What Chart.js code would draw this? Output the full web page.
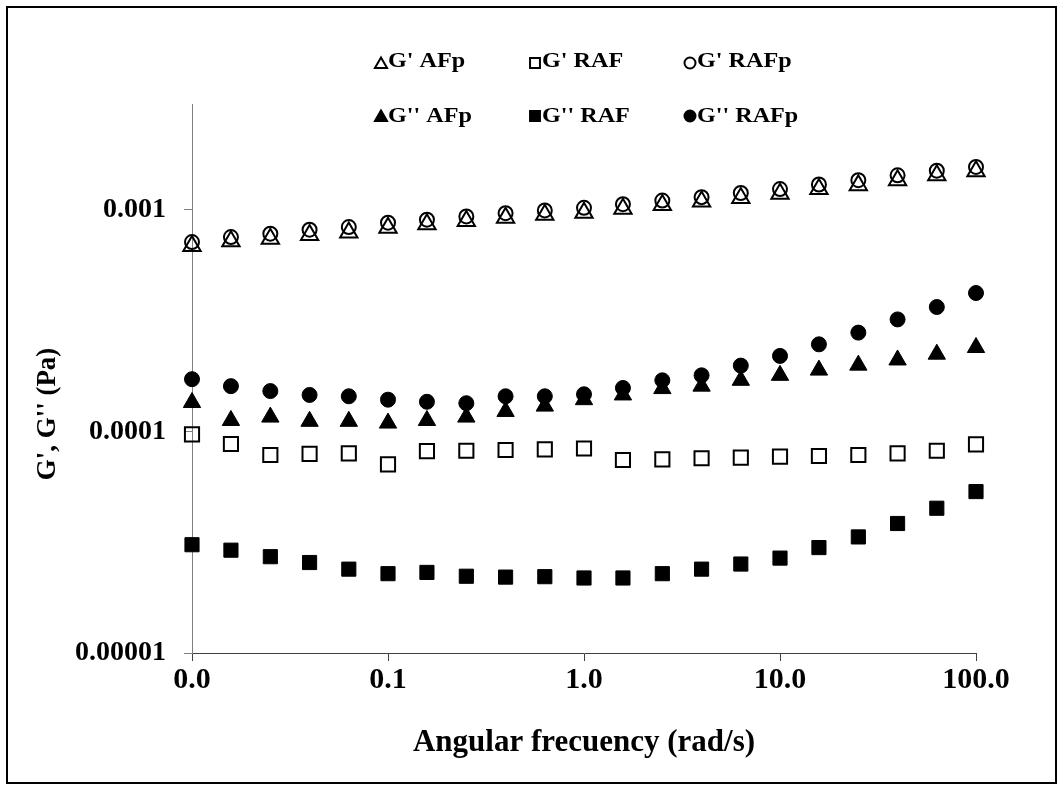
<!DOCTYPE html>
<html>
<head>
<meta charset="utf-8">
<script src="https://cdn.jsdelivr.net/npm/chart.js@4.4.1/dist/chart.umd.min.js"></script>
<style>
body{margin:0;background:#fff;}
canvas{display:block;}
</style>
</head>
<body>
<canvas id="chart" width="1063" height="790"></canvas>
<script>
// angular frequency (rad/s)
const freq=[0.01,0.0158,0.0251,0.0398,0.0631,0.1,0.158,0.251,0.398,0.631,1,1.58,2.51,3.98,6.31,10,15.8,25.1,39.8,63.1,100];
// moduli (Pa)
const gpAFp=[0.000686,0.00072,0.00074,0.00077,0.00079,0.00083,0.00086,0.00089,0.00092,0.00095,0.00097,0.00101,0.00105,0.00109,0.00113,0.00118,0.00124,0.00129,0.00136,0.00143,0.00149];
const gpRAF=[0.0000969,0.0000877,0.0000782,0.0000791,0.0000796,0.000071,0.0000815,0.0000818,0.0000824,0.000083,0.0000837,0.0000743,0.0000748,0.0000756,0.0000761,0.0000769,0.0000774,0.0000782,0.0000796,0.0000818,0.0000874];
const gpRAFp=[0.000715,0.000753,0.00078,0.000813,0.000835,0.000874,0.000902,0.000933,0.000965,0.000993,0.00102,0.00106,0.0011,0.00114,0.00119,0.00124,0.0013,0.00136,0.00143,0.0015,0.00156];
const gppAFp=[0.000135,0.000112,0.000116,0.000111,0.000111,0.000109,0.000112,0.000116,0.000123,0.00013,0.000139,0.000146,0.000156,0.00016,0.00017,0.000179,0.000189,0.000199,0.00021,0.000223,0.000239];
const gppRAF=[0.0000308,0.0000291,0.0000272,0.0000256,0.0000239,0.0000228,0.0000231,0.0000222,0.000022,0.0000221,0.0000218,0.0000218,0.0000228,0.0000239,0.0000252,0.0000268,0.0000299,0.0000334,0.0000384,0.000045,0.0000535];
const gppRAFp=[0.000172,0.00016,0.000152,0.000146,0.000144,0.000139,0.000136,0.000134,0.000144,0.000144,0.000147,0.000157,0.00017,0.000179,0.000198,0.000219,0.000247,0.000279,0.00032,0.000364,0.000421];

const labels=["G' AFp","G' RAF","G' RAFp","G'' AFp","G'' RAF","G'' RAFp"];
const xTicks=[0.01,0.1,1,10,100];
const xTickLabels=['0.0','0.1','1.0','10.0','100.0'];
const yTicks=[0.00001,0.0001,0.001];
const yTickLabels=['0.00001','0.0001','0.001'];
const xTitle='Angular frecuency (rad/s)';
const yTitle="G', G'' (Pa)";

const FONT='"Liberation Serif","Times New Roman",serif';
const pts=arr=>arr.map((v,i)=>({x:freq[i],y:v}));

function ds(label,data,style,filled,r){
  return {label,data:pts(data),pointStyle:style,pointRadius:r,pointHoverRadius:r,
    borderColor:'#000',backgroundColor:filled?'#000':'rgba(0,0,0,0)',
    pointBorderWidth:filled?1:2,showLine:false,clip:false};
}

// frame, legend and rotated y title
const decor={
  id:'decor',
  beforeDraw(c){
    const g=c.ctx; g.save();
    g.fillStyle='#fff'; g.fillRect(0,0,c.width,c.height);
    g.strokeStyle='#000'; g.lineWidth=2; g.strokeRect(7,7,1049,776);
    g.restore();
  },
  afterDraw(c){
    const g=c.ctx; g.save();
    const colX=[375,529,684], rowY=[63,116], baseY=[67,122];
    c.data.datasets.forEach((d,i)=>{
      const col=i%3,row=Math.floor(i/3);
      const filled=d.backgroundColor==='#000';
      const r=d.pointStyle==='circle'?5.5:7;
      g.fillStyle=d.backgroundColor; g.strokeStyle='#000';
      Chart.helpers.drawPoint(g,{pointStyle:d.pointStyle,radius:r,borderWidth:filled?1:1.5,rotation:0},colX[col]+6,rowY[row]+(d.pointStyle==='triangle'?1.5:0));
      // legend text is a little wide in the original
      g.save(); g.translate(colX[col]+13,baseY[row]); g.scale(1.15,1);
      g.fillStyle='#000'; g.font='bold 21px '+FONT; g.textAlign='left'; g.textBaseline='alphabetic';
      g.fillText(d.label,0,0); g.restore();
    });
    g.translate(48,414); g.rotate(-Math.PI/2);
    g.fillStyle='#000'; g.font='bold 27px '+FONT; g.textAlign='center'; g.textBaseline='middle';
    g.fillText(yTitle,0,0);
    g.restore();
  }
};

const ctx=document.getElementById('chart').getContext('2d');
new Chart(ctx,{
  type:'scatter',
  data:{datasets:[
    ds(labels[0],gpAFp,'triangle',false,10),
    ds(labels[1],gpRAF,'rect',false,10),
    ds(labels[2],gpRAFp,'circle',false,7),
    ds(labels[3],gppAFp,'triangle',true,10),
    ds(labels[4],gppRAF,'rect',true,10),
    ds(labels[5],gppRAFp,'circle',true,7.5)
  ]},
  options:{
    responsive:false,animation:false,
    layout:{padding:{top:104,right:87,left:0,bottom:24}},
    plugins:{legend:{display:false},tooltip:{enabled:false}},
    scales:{
      x:{type:'logarithmic',min:0.01,max:100,
        afterBuildTicks:s=>{s.ticks=xTicks.map(v=>({value:v}));},
        afterFit:s=>{s.height=113;},
        ticks:{autoSkip:false,maxRotation:0,padding:1,color:'#000',font:{family:FONT,size:30,weight:'bold'},
          callback:(v,i)=>xTickLabels[i]},
        grid:{drawOnChartArea:false,drawTicks:true,tickLength:8,color:'#404040'},
        border:{color:'#404040',width:1},
        title:{display:true,text:xTitle,color:'#000',font:{family:FONT,size:31,weight:'bold'},padding:{top:4,bottom:4}}
      },
      y:{type:'logarithmic',min:0.00001,max:0.003,
        afterBuildTicks:s=>{s.ticks=yTicks.map(v=>({value:v}));},
        afterFit:s=>{s.width=192;},
        ticks:{autoSkip:false,padding:18,color:'#000',font:{family:FONT,size:28,weight:'bold'},
          callback:(v,i)=>yTickLabels[i]},
        grid:{drawOnChartArea:false,drawTicks:true,tickLength:8,color:'#808080'},
        border:{color:'#808080',width:1}
      }
    }
  },
  plugins:[decor]
});
</script>
</body>
</html>
